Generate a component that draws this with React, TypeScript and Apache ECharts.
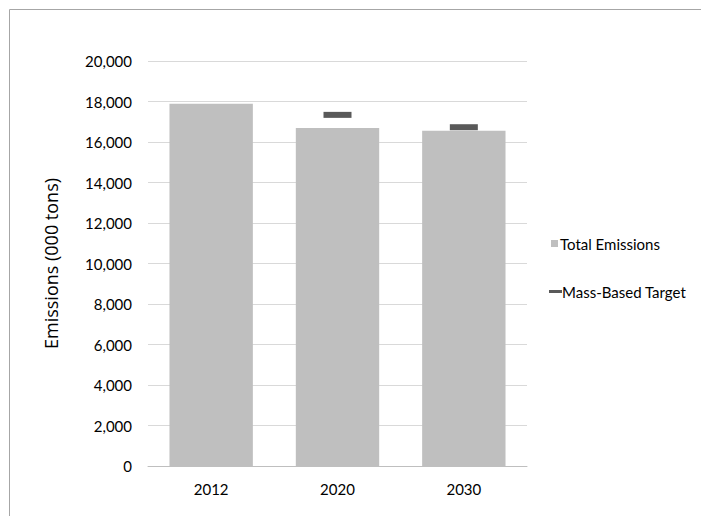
import React, { useEffect, useRef } from "react";
import * as echarts from "echarts";

const categories = ["2012", "2020", "2030"];
const totalEmissions = [17890, 16690, 16560];
const massBasedTarget: (number | string)[] = ["-", 17340, 16730];
const yTicks = { min: 0, max: 20000, interval: 2000 };

export default function App() {
  const ref = useRef<HTMLDivElement>(null);
  useEffect(() => {
    document.body.style.margin = "0";
    const chart = echarts.init(ref.current!, null, { renderer: "svg" });
    const font = "Lato";
    chart.setOption({
      animation: false,
      backgroundColor: "#ffffff",
      textStyle: { fontFamily: font },
      graphic: [
        {
          type: "rect",
          shape: { x: 9.5, y: 9.5, width: 760, height: 560 },
          style: { fill: "none", stroke: "#a6a6a6", lineWidth: 1 },
          silent: true,
        },
      ],
      grid: { left: 148, right: 174, top: 61, bottom: 50 },
      legend: [
        {
          data: ["Total Emissions"],
          orient: "vertical",
          left: 546,
          top: 231,
          itemWidth: 7,
          itemHeight: 7,
          icon: "rect",
          itemStyle: { opacity: 1 },
          textStyle: { fontFamily: font, fontSize: 15, color: "#000", padding: [0, 0, 0, -3] },
        },
        {
          data: ["Mass-Based Target"],
          orient: "vertical",
          left: 544,
          top: 279,
          itemWidth: 13,
          itemHeight: 3,
          icon: "rect",
          itemStyle: { opacity: 1, color: "#595959" },
          textStyle: { fontFamily: font, fontSize: 15, color: "#000", padding: [0, 0, 0, -5] },
        },
      ],
      xAxis: {
        type: "category",
        data: categories,
        axisLine: { show: true, lineStyle: { color: "#bfbfbf", width: 1 } },
        axisTick: { show: false },
        axisLabel: { fontFamily: font, fontSize: 15, color: "#000", margin: 15 },
      },
      yAxis: {
        type: "value",
        min: yTicks.min,
        max: yTicks.max,
        interval: yTicks.interval,
        name: "Emissions (000 tons)",
        nameLocation: "middle",
        nameRotate: 90,
        nameGap: 88,
        nameTextStyle: { fontFamily: "Open Sans", fontSize: 18, color: "#000" },
        axisLine: { show: false },
        axisTick: { show: false },
        splitLine: { lineStyle: { color: "#d9d9d9", width: 1 } },
        axisLabel: {
          fontFamily: font,
          fontSize: 15,
          color: "#000",
          margin: 16,
          formatter: (v: number) => v.toLocaleString("en-US"),
        },
      },
      series: [
        {
          name: "Total Emissions",
          type: "bar",
          data: totalEmissions,
          barWidth: "66%",
          itemStyle: { color: "#bfbfbf" },
        },
        {
          name: "Mass-Based Target",
          type: "scatter",
          data: massBasedTarget,
          symbol: "rect",
          symbolSize: [28, 6],
          itemStyle: { color: "#595959", opacity: 1 },
          z: 5,
        },
      ],
    });
    return () => chart.dispose();
  }, []);
  return <div ref={ref} style={{ width: 701, height: 516, position: "absolute", left: 0, top: 0 }} />;
}
